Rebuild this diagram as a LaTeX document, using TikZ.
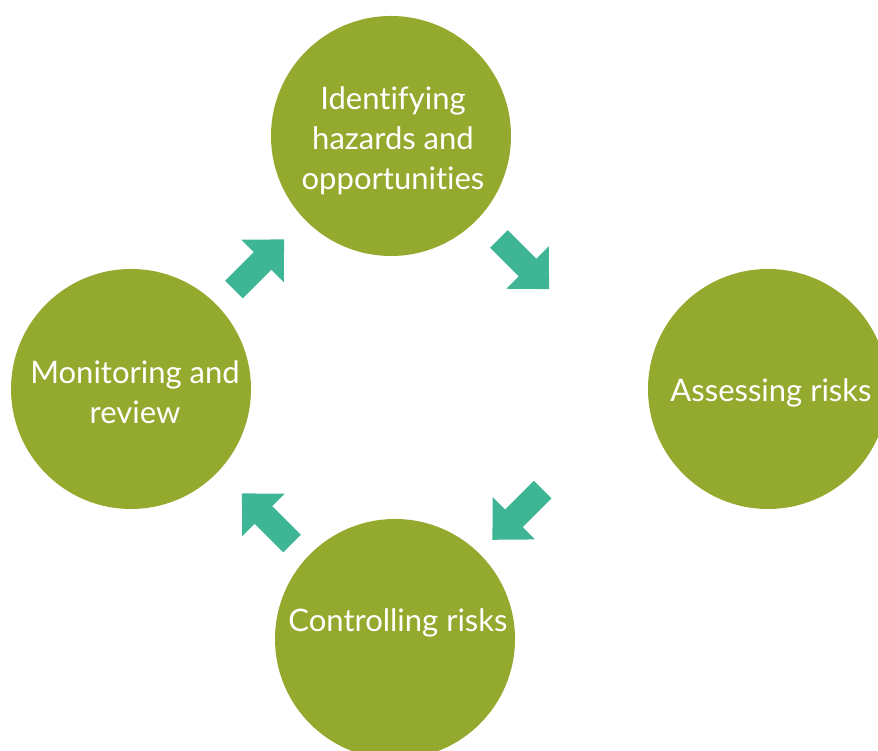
\documentclass[tikz,border=0pt]{standalone}
\usepackage{fontspec}
\setmainfont{Lato}[Ligatures={NoCommon}]
\definecolor{stagegreen}{RGB}{147,170,47}
\definecolor{flowteal}{RGB}{62,181,149}
\begin{document}
\begin{tikzpicture}[x=1pt,y=1pt,
  stage/.style={circle,fill=stagegreen,minimum size=240pt,inner sep=0pt},
  stagetext/.style={text=white,align=center,font=\fontsize{31}{40}\selectfont},
  blockarrow/.pic={\fill[flowteal] (-35.5,-12.5) -- (5,-12.5) -- (5,-30) -- (35.5,0)
      -- (5,30) -- (5,12.5) -- (-35.5,12.5) -- cycle;}]
\useasboundingbox (0,0) rectangle (878,751);
% the four stages of the cycle
\node[stage] (identify) at (391,615) {};
\node[stage] (assess)   at (768,362) {};
\node[stage] (control)  at (395,112) {};
\node[stage] (monitor)  at (131,362) {};
\node[stagetext] (identifyT) at ([xshift=2pt,yshift=-5pt]identify.center) {Identifying\\hazards and\\opportunities};
\node[stagetext] (assessT)   at ([xshift=3pt,yshift=-4pt]assess.center) {Assessing risks};
\node[stagetext] (controlT)  at ([xshift=3pt,yshift=16pt]control.center) {Controlling risks};
\node[stagetext] (monitorT)  at ([xshift=4pt,yshift=-3pt]monitor.center) {Monitoring and\\review};
% arrows running clockwise between the stages
\pic[rotate=-45]  at (524,487)    {blockarrow};
\pic[rotate=-135] at (517.5,236.3) {blockarrow};
\pic[rotate=135]  at (267,232.5)  {blockarrow};
\pic[rotate=45]   at (259,486.5)  {blockarrow};
\end{tikzpicture}
\end{document}
